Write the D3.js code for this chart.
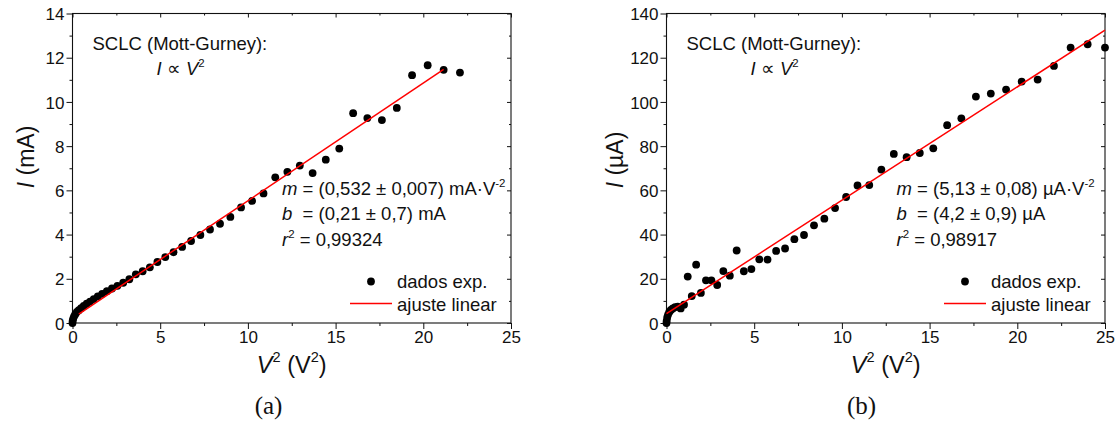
<!DOCTYPE html>
<html>
<head>
<meta charset="utf-8">
<script src="https://cdn.jsdelivr.net/npm/d3@7"></script>
<style>
  body { margin: 0; background: #fff; }
  svg text { font-family: "Liberation Sans", Arial, sans-serif; fill: #111; white-space: pre; }
  .caption { font-family: "Liberation Serif", "DejaVu Serif", serif; }
</style>
</head>
<body>
<svg id="chart" width="1120" height="425"></svg>
<script>
/* global d3 */

// V^2 values (V stepped by 0.1 V)
var vSqA = [ 0, 0.01, 0.04, 0.09, 0.16, 0.25, 0.36, 0.49, 0.64, 0.81, 1, 1.21, 1.44, 1.69,
  1.96, 2.25, 2.56, 2.89, 3.24, 3.61, 4, 4.41, 4.84, 5.29, 5.76, 6.25, 6.76, 7.29, 7.84,
  8.41, 9, 9.61, 10.24, 10.89, 11.56, 12.25, 12.96, 13.69, 14.44, 15.21, 16, 16.81,
  17.64, 18.49, 19.36, 20.25, 21.16, 22.09 ];
// current in mA, panel (a)
var currentA = [ 0, 0.1, 0.2, 0.3, 0.4, 0.5, 0.58, 0.67, 0.77, 0.87, 0.97, 1.08, 1.2, 1.32,
  1.44, 1.56, 1.68, 1.82, 1.98, 2.2, 2.34, 2.52, 2.76, 2.98, 3.2, 3.44, 3.71, 3.98, 4.23,
  4.49, 4.8, 5.23, 5.52, 5.86, 6.59, 6.84, 7.12, 6.78, 7.39, 7.89, 9.49, 9.27, 9.18,
  9.73, 11.21, 11.66, 11.45, 11.33 ];

var vSqB = [ 0, 0.01, 0.04, 0.09, 0.16, 0.25, 0.36, 0.49, 0.64, 0.81, 1, 1.21, 1.44, 1.69,
  1.96, 2.25, 2.56, 2.89, 3.24, 3.61, 4, 4.41, 4.84, 5.29, 5.76, 6.25, 6.76, 7.29, 7.84,
  8.41, 9, 9.61, 10.24, 10.89, 11.56, 12.25, 12.96, 13.69, 14.44, 15.21, 16, 16.81,
  17.64, 18.49, 19.36, 20.25, 21.16, 22.09, 23.04, 24.01, 25 ];
// current in uA, panel (b)
var currentB = [ 0, 1.0, 2.5, 3.8, 5.0, 5.9, 6.6, 7.2, 7.4, 6.6, 8.3, 21.0, 12.2, 26.4,
  13.6, 19.3, 19.3, 17.2, 23.5, 21.4, 32.8, 23.4, 24.4, 28.8, 28.7, 32.6, 33.7, 37.9,
  39.8, 44.2, 47.2, 52.0, 57.0, 62.2, 62.4, 69.4, 76.5, 75.0, 76.9, 79.0, 89.5, 92.6,
  102.4, 103.8, 105.6, 109.2, 110.1, 116.3, 124.6, 126.1, 124.6 ];

// linear fits: slope, intercept and fitted range
var fitA = { m: 0.532, b: 0.21, range: [ 0.36, 21.16 ] };
var fitB = { m: 5.13, b: 4.2, range: [ 0, 25 ] };

var xTicks = [ 0, 5, 10, 15, 20, 25 ];
var yTicksA = [ 0, 2, 4, 6, 8, 10, 12, 14 ];
var yTicksB = [ 0, 20, 40, 60, 80, 100, 120, 140 ];

var fitTextA = [ "(0,532 ± 0,007) mA·V", "(0,21 ± 0,7) mA", "0,99324" ];
var fitTextB = [ "(5,13 ± 0,08) µA·V", "(4,2 ± 0,9) µA", "0,98917" ];

var svg = d3.select( "#chart" );

// append a text made of pieces: { t, it (italic), sup }
function richText( g, x, y, size, parts ) {
  var txt = g.append( "text" ).attr( "x", x ).attr( "y", y ).attr( "font-size", size );
  var up = false;
  parts.forEach( function( p ) {
    var ts = txt.append( "tspan" ).text( p.t );
    if( p.it ) ts.attr( "font-style", "italic" );
    if( p.sup ) {
      ts.attr( "font-size", size * 0.62 ).attr( "dy", -size * 0.45 );
      up = true;
    } else if( up ) {
      ts.attr( "dy", size * 0.45 );
      up = false;
    }
  } );
  return txt;
}

function drawPanel( o ) {
  var left = o.left, top = 13.5, w = 438.5, h = 309.5;
  var g = svg.append( "g" ).attr( "transform", "translate(" + left + "," + top + ")" );

  var x = d3.scaleLinear().domain( [ 0, 25 ] ).range( [ 0, w ] );
  var y = d3.scaleLinear().domain( [ 0, o.yMax ] ).range( [ h, 0 ] );
  var yStep = o.yTicks[ 1 ] - o.yTicks[ 0 ];
  var xMinor = d3.range( 2.5, 25, 5 );
  var yMinor = o.yTicks.slice( 0, -1 ).map( function( t ) { return t + yStep / 2; } );

  // frame
  g.append( "rect" ).attr( "width", w ).attr( "height", h )
    .attr( "fill", "none" ).attr( "stroke", "#111" ).attr( "stroke-width", 1.1 );

  // bottom / left: outward ticks
  var xAxis = g.append( "g" ).attr( "transform", "translate(0," + h + ")" )
    .call( d3.axisBottom( x ).tickValues( o.xTicks ).tickSize( 6 ).tickPadding( 2 ) );
  g.append( "g" ).attr( "transform", "translate(0," + h + ")" )
    .call( d3.axisBottom( x ).tickValues( xMinor ).tickSize( 3 ).tickFormat( "" ) );
  var yAxis = g.append( "g" )
    .call( d3.axisLeft( y ).tickValues( o.yTicks ).tickSize( 6 ).tickPadding( 2 ) );
  g.append( "g" )
    .call( d3.axisLeft( y ).tickValues( yMinor ).tickSize( 3 ).tickFormat( "" ) );

  // top / right: mirrored ticks, pointing inward
  g.append( "g" ).call( d3.axisBottom( x ).tickValues( o.xTicks ).tickSize( 4 ).tickFormat( "" ) );
  g.append( "g" ).call( d3.axisBottom( x ).tickValues( xMinor ).tickSize( 2 ).tickFormat( "" ) );
  g.append( "g" ).attr( "transform", "translate(" + w + ",0)" )
    .call( d3.axisLeft( y ).tickValues( o.yTicks ).tickSize( 4 ).tickFormat( "" ) );
  g.append( "g" ).attr( "transform", "translate(" + w + ",0)" )
    .call( d3.axisLeft( y ).tickValues( yMinor ).tickSize( 2 ).tickFormat( "" ) );

  g.selectAll( ".domain" ).remove();
  g.selectAll( ".tick line" ).attr( "stroke", "#111" );
  xAxis.selectAll( "text" ).attr( "font-size", 17 ).attr( "fill", "#111" );
  yAxis.selectAll( "text" ).attr( "font-size", 17 ).attr( "fill", "#111" ).attr( "dy", "0.36em" );

  // data points
  var pts = o.xs.map( function( v, i ) { return [ v, o.ys[ i ] ]; } );
  g.selectAll( ".dot" ).data( pts ).enter().append( "circle" )
    .attr( "class", "dot" )
    .attr( "cx", function( d ) { return x( d[ 0 ] ); } )
    .attr( "cy", function( d ) { return y( d[ 1 ] ); } )
    .attr( "r", 3.9 )
    .attr( "fill", "#000" );

  // fitted line
  var line = d3.line()
    .x( function( d ) { return x( d ); } )
    .y( function( d ) { return y( o.fit.m * d + o.fit.b ); } );
  g.append( "path" ).datum( o.fit.range ).attr( "d", line )
    .attr( "fill", "none" ).attr( "stroke", "#ff0000" ).attr( "stroke-width", 1.5 );

  // annotations
  richText( g, 20, 36.5, 18.5, [ { t: "SCLC (Mott-Gurney):" } ] );
  richText( g, 84, 61.5, 18.5, [ { t: "I", it: true }, { t: " ∝ " }, { t: "V", it: true }, { t: "2", sup: true } ] );
  richText( g, o.fitX, 181.5, 18.5, [ { t: "m", it: true }, { t: " = " + o.fitText[ 0 ] }, { t: "-2", sup: true } ] );
  richText( g, o.fitX, 206.5, 18.5, [ { t: "b", it: true }, { t: "  = " + o.fitText[ 1 ] } ] );
  richText( g, o.fitX, 232.5, 18.5, [ { t: "r", it: true }, { t: "2", sup: true }, { t: " = " + o.fitText[ 2 ] } ] );

  // legend
  g.append( "circle" ).attr( "cx", w - 140 ).attr( "cy", 268 ).attr( "r", 3.9 ).attr( "fill", "#000" );
  richText( g, w - 114, 274.5, 18.5, [ { t: "dados exp." } ] );
  g.append( "line" ).attr( "x1", w - 161 ).attr( "x2", w - 119 ).attr( "y1", 290 ).attr( "y2", 290 )
    .attr( "stroke", "#ff0000" ).attr( "stroke-width", 1.5 );
  richText( g, w - 114, 297.5, 18.5, [ { t: "ajuste linear" } ] );

  // axis titles
  richText( g, w / 2, 359.5, 23.5, [ { t: "V", it: true }, { t: "2", sup: true }, { t: " (V" }, { t: "2", sup: true }, { t: ")" } ] )
    .attr( "text-anchor", "middle" );
  var yt = g.append( "g" ).attr( "transform", "translate(" + o.yTitleX + "," + o.yTitleY + ") rotate(-90)" );
  richText( yt, 0, 0, 23, [ { t: "I", it: true }, { t: " (" + o.unit + ")" } ] ).attr( "text-anchor", "middle" );

  // caption
  g.append( "text" ).attr( "class", "caption" )
    .attr( "x", o.capX ).attr( "y", 400 ).attr( "font-size", 25 )
    .attr( "text-anchor", "middle" ).text( o.caption );
}

drawPanel( { left: 72.5, yMax: 14, xs: vSqA, ys: currentA, fit: fitA, xTicks: xTicks,
  yTicks: yTicksA, fitText: fitTextA, fitX: 209.5, unit: "mA",
  yTitleX: -39, yTitleY: 143.5, caption: "(a)", capX: 196 } );

drawPanel( { left: 666.5, yMax: 140, xs: vSqB, ys: currentB, fit: fitB, xTicks: xTicks,
  yTicks: yTicksB, fitText: fitTextB, fitX: 230, unit: "µA",
  yTitleX: -44, yTitleY: 146.5, caption: "(b)", capX: 195 } );
</script>
</body>
</html>
